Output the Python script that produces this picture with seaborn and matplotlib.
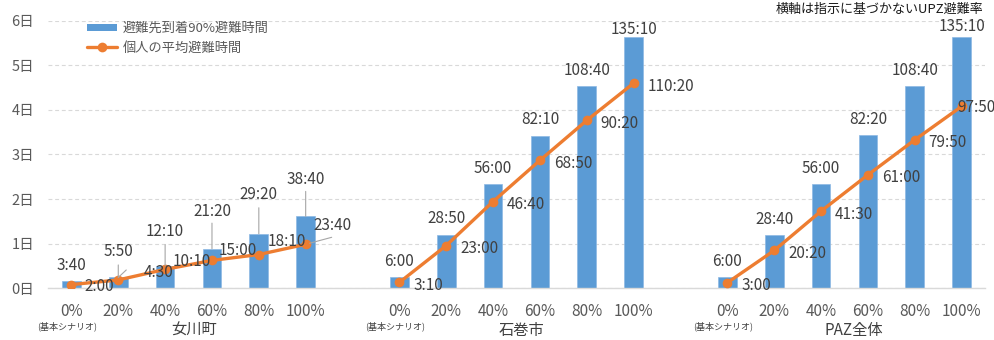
import matplotlib
matplotlib.use("Agg")
import matplotlib.pyplot as plt
import pandas as pd
import seaborn as sns
from matplotlib.lines import Line2D
from matplotlib.patches import Patch

# ---- data -------------------------------------------------------------
groups = ["女川町", "石巻市", "PAZ全体"]
rates = ["0%", "20%", "40%", "60%", "80%", "100%"]
base_note = "(基本シナリオ)"

# time (h:mm) until 90% of evacuees reach their destination
onagawa_arrival90 = ["3:40", "5:50", "12:10", "21:20", "29:20", "38:40"]
ishinomaki_arrival90 = ["6:00", "28:50", "56:00", "82:10", "108:40", "135:10"]
paz_arrival90 = ["6:00", "28:40", "56:00", "82:20", "108:40", "135:10"]

# average evacuation time per person (h:mm)
onagawa_average = ["2:00", "4:30", "10:10", "15:00", "18:10", "23:40"]
ishinomaki_average = ["3:10", "23:00", "46:40", "68:50", "90:20", "110:20"]
paz_average = ["3:00", "20:20", "41:30", "61:00", "79:50", "97:50"]

day_labels = ["0日", "1日", "2日", "3日", "4日", "5日", "6日"]

legend_bar = "避難先到着90%避難時間"
legend_line = "個人の平均避難時間"
note_text = "横軸は指示に基づかないUPZ避難率"


def to_hours(s):
    h, m = s.split(":")
    return int(h) + int(m) / 60.0


arrival_sets = [onagawa_arrival90, ishinomaki_arrival90, paz_arrival90]
average_sets = [onagawa_average, ishinomaki_average, paz_average]

rows = []
for gi, g in enumerate(groups):
    for i, r in enumerate(rates):
        rows.append({
            "group": g, "rate": r, "pos": gi * 7 + i,
            "arrival_lbl": arrival_sets[gi][i],
            "average_lbl": average_sets[gi][i],
            "arrival": to_hours(arrival_sets[gi][i]),
            "average": to_hours(average_sets[gi][i]),
        })
df = pd.DataFrame(rows)

# ---- style ------------------------------------------------------------
sns.set_theme(style="white")
plt.rcParams["font.family"] = ["Noto Sans CJK JP", "DejaVu Sans"]

BAR = "#5B9BD5"
LINE = "#ED7D31"
TXT = "#404040"
AXT = "#595959"
GRID = "#D9D9D9"
LEAD = "#A6A6A6"

fig = plt.figure(figsize=(9.94, 3.40), dpi=100)
ax = fig.add_axes([48 / 994, 1 - 288.3 / 340, (985 - 48) / 994, (288.3 - 20.6) / 340])

sns.barplot(data=df, x="pos", y="arrival", native_scale=True, width=0.4,
            color=BAR, saturation=1, errorbar=None, edgecolor="#8DB9E4",
            linewidth=0.5, ax=ax, zorder=2)
sns.lineplot(data=df, x="pos", y="average", units="group", estimator=None,
             color=LINE, linewidth=2.4, marker="o", markersize=7,
             markeredgewidth=0, ax=ax, zorder=3, legend=False)

ax.set_xlim(-0.5, 19.5)
ax.set_ylim(0, 144)
ax.set_yticks([24 * k for k in range(7)])
ax.set_yticklabels(day_labels)
ax.set_xticks(df["pos"])
ax.set_xticklabels(df["rate"])
ax.set_xlabel("")
ax.set_ylabel("")
ax.tick_params(axis="both", length=0, colors=AXT)
ax.tick_params(axis="x", labelsize=11, pad=10.5)
ax.tick_params(axis="y", labelsize=10.5, pad=10)
for s in ["top", "right", "left"]:
    ax.spines[s].set_visible(False)
ax.spines["bottom"].set_color(GRID)
ax.spines["bottom"].set_linewidth(1.0)
ax.yaxis.grid(True, color=GRID, linestyle=(0, (3.5, 2.5)), linewidth=0.8)
ax.set_axisbelow(True)

# ---- data labels ------------------------------------------------------
bar_offsets = {(0, 1): (0, 26), (0, 2): (0, 34), (0, 3): (0, 37),
               (0, 4): (0, 39), (0, 5): (0, 36.5), (1, 5): (0, 8), (2, 5): (0, 11)}
line_offsets = {(0, 0): (13, -2), (0, 1): (25, 7), (0, 2): (7, 8), (0, 3): (7, 10),
                (0, 4): (9, 13.5), (0, 5): (8, 19), (2, 5): (-4, -1)}
bar_leaders = {(0, 2): 21, (0, 3): 25.5, (0, 4): 26, (0, 5): 25}

for gi in range(3):
    for i in range(6):
        row = df.iloc[gi * 6 + i]
        x = row["pos"]
        dx, dy = bar_offsets.get((gi, i), (0, 16))
        ax.annotate(row["arrival_lbl"], xy=(x, row["arrival"]), xytext=(dx, dy),
                    textcoords="offset pixels", ha="center", va="center",
                    fontsize=11, color=TXT, zorder=5)
        lx, ly = line_offsets.get((gi, i), (14, -3))
        ax.annotate(row["average_lbl"], xy=(x, row["average"]), xytext=(lx, ly),
                    textcoords="offset pixels", ha="left", va="center",
                    fontsize=11, color=TXT, zorder=5)
        if (gi, i) in bar_leaders:
            ax.annotate("", xy=(x, row["arrival"]), xytext=(0, bar_leaders[(gi, i)]),
                        textcoords="offset pixels",
                        arrowprops=dict(arrowstyle="-", color=LEAD, lw=0.8,
                                        shrinkA=0, shrinkB=0), zorder=4)

# leader for 5:50 (vertical with a short side tick)
r = df.iloc[1]
ax.annotate("", xy=(r["pos"], r["arrival"]), xytext=(0, 12.5), textcoords="offset pixels",
            arrowprops=dict(arrowstyle="-", color=LEAD, lw=0.8, shrinkA=0, shrinkB=0))
ax.annotate("", xy=(r["pos"], r["arrival"]), xytext=(8, 7.5), textcoords="offset pixels",
            arrowprops=dict(arrowstyle="-", color=LEAD, lw=0.8, shrinkA=0, shrinkB=0,
                            relpos=(0, 0.5)))
# leader for 23:40 (diagonal from the marker)
r = df.iloc[5]
ax.annotate("", xy=(r["pos"], r["average"]), xytext=(26, 7), textcoords="offset pixels",
            arrowprops=dict(arrowstyle="-", color=LEAD, lw=0.8, shrinkA=0, shrinkB=3))

# ---- group labels under the axis --------------------------------------
xt = ax.get_xaxis_transform()
group_shift = [0.12, 0.1, 0.2]
for gi, g in enumerate(groups):
    ax.annotate(g, xy=(gi * 7 + 2.5 + group_shift[gi], 0), xycoords=xt,
                xytext=(0, -42), textcoords="offset pixels", ha="center", va="center",
                fontsize=11, color=TXT, annotation_clip=False)
    ax.annotate(base_note, xy=(gi * 7, 0), xycoords=xt, xytext=(-4, -38),
                textcoords="offset pixels", ha="center", va="center",
                fontsize=6.5, color=TXT, annotation_clip=False)

# ---- legend and note --------------------------------------------------
handles = [Patch(facecolor=BAR, edgecolor="none"),
           Line2D([0], [0], color=LINE, lw=2.4, marker="o", markersize=7,
                  markeredgewidth=0)]
fig.legend(handles, [legend_bar, legend_line], loc="upper left",
           bbox_to_anchor=(87 / 994, 1 - 22 / 340), bbox_transform=fig.transFigure,
           frameon=False, fontsize=9.5, labelcolor=AXT, handlelength=2.3,
           handleheight=0.5, handletextpad=0.4, labelspacing=0.5, borderpad=0,
           borderaxespad=0)

fig.text(983 / 994, 1 - 9.5 / 340, note_text, ha="right", va="center",
         fontsize=9.4, color="#1a1a1a")

fig.savefig("out.png", dpi=100)
